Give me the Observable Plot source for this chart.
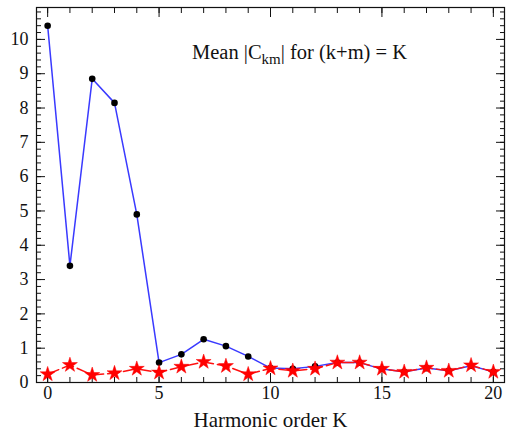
<!DOCTYPE html>
<html><head><meta charset="utf-8">
<script src="https://cdn.jsdelivr.net/npm/d3@7"></script>
<script src="https://cdn.jsdelivr.net/npm/@observablehq/plot@0.6"></script>
<style>body{margin:0;background:#fff} #chart{position:relative;width:507px;height:430px}</style>
</head><body><div id="chart"></div>
<script>
const harmonicOrder = [0,1,2,3,4,5,6,7,8,9,10,11,12,13,14,15,16,17,18,19,20];
const meanBlue = [10.4, 3.4, 8.85, 8.15, 4.9, 0.58, 0.82, 1.26, 1.06, 0.76, 0.42, 0.40, 0.47, 0.58, 0.58, 0.39, 0.31, 0.42, 0.34, 0.49, 0.31];
const meanRed  = [0.24, 0.51, 0.22, 0.27, 0.40, 0.29, 0.46, 0.60, 0.48, 0.24, 0.41, 0.34, 0.40, 0.58, 0.58, 0.40, 0.31, 0.43, 0.34, 0.50, 0.31];
const xMajorTicks = [0,5,10,15,20];
const yMajorTicks = [0,1,2,3,4,5,6,7,8,9,10];
const titleParts = ["Mean |C", "km", "| for (k+m) = K"];
const xLabel = "Harmonic order K";

const blueData = harmonicOrder.map((k,i)=>({k, v: meanBlue[i]}));
const redData = harmonicOrder.map((k,i)=>({k, v: meanRed[i]}));
const xMinor = d3.range(0, 21, 1);
const yMinor = d3.range(0, 55, 1).map(d => d/5);

const font = "'Liberation Serif', 'Times New Roman', serif";
const noText = () => "";

const plot = Plot.plot({
  width: 507, height: 430,
  marginLeft: 36, marginRight: 3, marginTop: 7, marginBottom: 48,
  style: {fontFamily: font, fontSize: "18px", color: "#111", background: "#fff"},
  x: {domain: [-0.5, 20.5]},
  y: {domain: [0, 10.93]},
  marks: [
    Plot.axisX({ticks: xMajorTicks, tickSize: 0, tickPadding: 4, fontSize: 18, label: null}),
    Plot.axisX({ticks: [], tickSize: 0, label: xLabel, labelAnchor: "center", labelOffset: 44, labelArrow: "none", fontSize: 21}),
    Plot.axisX({ticks: xMinor, tickSize: -5, tickFormat: noText, label: null}),
    Plot.axisX({ticks: xMajorTicks, tickSize: -9, tickFormat: noText, label: null}),
    Plot.axisX({anchor: "top", ticks: xMinor, tickSize: -5, tickFormat: noText, label: null}),
    Plot.axisX({anchor: "top", ticks: xMajorTicks, tickSize: -9, tickFormat: noText, label: null}),
    Plot.axisY({ticks: yMajorTicks, tickSize: 0, tickPadding: 8, fontSize: 18, label: null}),
    Plot.axisY({ticks: yMinor, tickSize: -5, tickFormat: noText, label: null}),
    Plot.axisY({ticks: yMajorTicks, tickSize: -9, tickFormat: noText, label: null}),
    Plot.axisY({anchor: "right", ticks: yMinor, tickSize: -5, tickFormat: noText, label: null}),
    Plot.axisY({anchor: "right", ticks: yMajorTicks, tickSize: -9, tickFormat: noText, label: null}),
    Plot.frame({stroke: "#111", strokeWidth: 1.2}),
    Plot.line(blueData, {x: "k", y: "v", stroke: "#3a3aff", strokeWidth: 1.5}),
    Plot.dot(blueData, {x: "k", y: "v", r: 3.3, fill: "#000", stroke: "none"}),
    Plot.line(redData, {x: "k", y: "v", stroke: "#ff1010", strokeWidth: 1.5, strokeDasharray: "12,4"}),
    Plot.dot(redData, {x: "k", y: "v", symbol: "star", r: 4.7, fill: "#ff0000", stroke: "#ff0000", strokeWidth: 0.5})
  ]
});
document.getElementById("chart").appendChild(plot);

// title with subscript inside the plot area
const svg = d3.select(plot);
const t = svg.append("text")
  .attr("x", 192).attr("y", 59).attr("text-anchor", "start")
  .attr("font-family", font).attr("font-size", 20.5).attr("fill", "#111");
t.append("tspan").text(titleParts[0]);
t.append("tspan").attr("dy", 5).attr("font-size", 15).text(titleParts[1]);
t.append("tspan").attr("dy", -5).text(titleParts[2]);
</script>
</body></html>
